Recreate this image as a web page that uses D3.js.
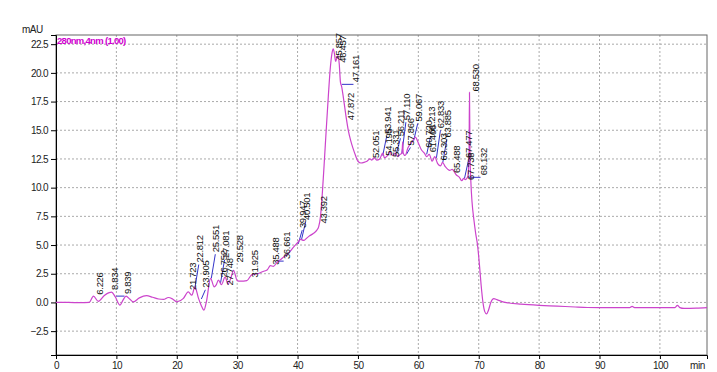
<!DOCTYPE html>
<html>
<head>
<meta charset="utf-8">
<script src="https://cdn.jsdelivr.net/npm/d3@7"></script>
<style>
  body { margin: 0; background: #fff; }
  svg { font-family: "Liberation Sans", Arial, sans-serif; }
</style>
</head>
<body>
<div id="chart"></div>
<script>
// chromatogram trace: [retention time (min), absorbance (mAU)]
const trace = [
  [0, 0.0], [2, 0.0], [4, -0.02], [5.5, 0.0], [6.2, 0.55], [7.0, 0.1], [8.0, 0.6],
  [8.8, 0.85], [9.2, 0.9], [9.8, 0.5], [10.6, -0.23], [11.1, 0.2], [11.6, 0.55],
  [12.2, 0.3], [12.8, 0.05], [13.8, 0.4], [15.0, 0.6], [16.0, 0.45], [17.0, 0.3],
  [17.8, 0.26], [18.6, 0.43], [19.3, 0.3], [20.0, 0.05], [21.1, 0.35], [21.9, 0.92],
  [22.5, 0.63], [23.0, 1.36], [23.6, 0.35], [24.0, -0.2], [24.5, -0.67], [24.9, 0.05],
  [25.6, 2.1], [26.2, 1.36], [26.5, 1.5], [26.9, 1.94], [27.4, 1.55], [28.0, 2.2],
  [28.5, 1.6], [29.0, 2.2], [29.4, 2.8], [30.0, 1.9], [30.5, 1.85], [31.6, 1.9],
  [32.4, 2.4], [33.4, 2.5], [34.3, 2.7], [35.0, 2.85], [35.5, 3.2], [36.0, 3.15],
  [36.7, 3.55], [37.1, 3.7], [37.8, 4.0], [38.3, 4.2], [38.7, 4.4], [39.3, 4.8],
  [40.0, 5.2], [40.5, 5.5], [41.0, 5.4], [41.5, 5.6], [42.0, 5.8], [42.6, 6.0],
  [43.2, 6.3], [43.5, 6.6], [43.8, 7.5], [44.1, 9.5], [44.4, 12.0], [44.8, 15.5],
  [45.1, 18.0], [45.4, 20.3], [45.7, 21.7], [45.9, 22.1], [46.1, 21.7], [46.3, 21.0],
  [46.5, 21.3], [46.7, 21.5], [46.9, 20.8], [47.1, 19.2], [47.3, 18.8], [47.6, 17.8],
  [48.0, 16.3], [48.4, 15.0], [48.8, 14.1], [49.2, 13.4], [49.6, 12.8], [50.0, 12.3],
  [50.5, 12.15], [51.0, 12.2], [51.5, 12.3], [52.0, 12.5], [52.3, 12.4], [52.7, 12.6],
  [53.1, 12.4], [53.6, 12.5], [54.1, 13.0], [54.4, 12.6], [54.9, 12.8], [55.3, 13.1],
  [55.7, 12.8], [56.2, 13.0], [56.6, 12.7], [57.0, 12.9], [57.3, 13.0], [57.4, 14.0],
  [57.5, 13.0], [57.8, 12.8], [58.3, 13.5], [59.0, 14.0], [59.5, 14.4], [60.0, 13.9],
  [60.5, 13.3], [61.0, 13.0], [61.4, 12.7], [61.8, 12.9], [62.3, 12.3], [62.7, 12.7],
  [63.2, 12.1], [63.7, 11.9], [64.0, 12.2], [64.5, 11.8], [65.2, 11.5], [65.6, 11.6],
  [66.3, 11.1], [66.8, 10.9], [67.2, 10.6], [67.5, 10.8], [67.8, 10.7], [68.2, 11.0],
  [68.4, 13.0], [68.47, 18.3], [68.55, 13.0], [68.7, 10.5], [68.9, 8.7], [69.2, 7.2],
  [69.5, 6.0], [69.8, 5.0], [70.1, 3.4], [70.4, 1.5], [70.7, 0.0], [71.0, -0.8],
  [71.3, -1.0], [71.6, -0.7], [72.0, 0.0], [72.5, 0.33], [73.0, 0.25], [74.0, 0.05],
  [75.0, -0.05], [77.0, -0.15], [80.0, -0.25], [83.0, -0.32], [86.0, -0.4], [88.0, -0.44],
  [90.0, -0.45], [95.0, -0.45], [95.4, -0.35], [95.8, -0.45], [100, -0.45], [102.5, -0.45],
  [102.9, -0.25], [103.3, -0.45], [104, -0.52], [106, -0.5], [107.8, -0.45]
];

// peak labels: [label, apex mAU, label level mAU, label time (min)]
const peaks = [
  ['6.226', 0.55, 0.5, 6.226], ['8.834', 0.85, 0.9, 8.834], ['9.839', 0.55, 0.55, 10.85],
  ['21.723', 0.9, 0.9, 21.723], ['22.812', 1.2, 3.3, 22.812], ['23.905', 0.3, 1.1, 23.905],
  ['25.551', 2.1, 4.2, 25.551], ['26.752', 1.9, 2.0, 26.752], ['27.081', 1.7, 3.7, 27.081],
  ['27.748', 1.9, 1.3, 27.748], ['29.528', 2.8, 3.3, 29.528], ['31.925', 2.0, 2.0, 31.925],
  ['35.488', 3.0, 3.1, 35.488], ['36.661', 3.6, 3.6, 37.2], ['39.947', 5.1, 6.3, 39.947],
  ['40.501', 5.5, 7.0, 40.501], ['43.392', 6.5, 6.7, 43.392], ['45.857', 22.1, 20.9, 45.857],
  ['46.457', 21.3, 20.7, 46.457], ['47.161', 19.0, 19.0, 48.76], ['47.872', 16.8, 15.7, 47.872],
  ['52.051', 12.5, 12.4, 52.051], ['54.195', 12.9, 12.6, 54.195], ['53.941', 12.8, 14.5, 53.941],
  ['55.331', 13.0, 12.5, 55.331], ['56.211', 13.0, 14.3, 56.211], ['57.110', 13.0, 15.7, 57.110],
  ['57.866', 12.9, 13.5, 57.866], ['59.067', 14.1, 15.6, 59.067], ['60.720', 13.2, 13.3, 60.720],
  ['61.406', 12.7, 12.9, 61.406], ['61.213', 12.9, 14.5, 61.213], ['62.833', 12.6, 15.0, 62.833],
  ['63.303', 12.1, 12.2, 63.303], ['63.885', 12.2, 14.2, 63.885], ['65.488', 11.6, 11.1, 65.488],
  ['67.477', 10.8, 12.4, 67.477], ['67.738', 10.7, 10.5, 67.738], ['68.530', 18.3, 18.2, 68.530],
  ['68.132', 10.9, 10.9, 69.8]
];

const xTicks = [0, 10, 20, 30, 40, 50, 60, 70, 80, 90, 100];
const yTicks = [-2.5, 0.0, 2.5, 5.0, 7.5, 10.0, 12.5, 15.0, 17.5, 20.0, 22.5];

const width = 717;
const height = 372;
const margin = { top: 35, right: 10, bottom: 17, left: 56 };

const x = d3.scaleLinear().domain([0, 107.8]).range([margin.left, width - margin.right]);
const y = d3.scaleLinear().domain([-4.58, 23.3]).range([height - margin.bottom, margin.top]);

const svg = d3.select('#chart').append('svg')
  .attr('width', width)
  .attr('height', height);

// dotted grid
svg.append('g').selectAll('line').data(xTicks.filter(d => d > 0))
  .join('line')
  .attr('x1', d => x(d)).attr('x2', d => x(d))
  .attr('y1', y.range()[1]).attr('y2', y.range()[0])
  .attr('stroke', '#aaa').attr('stroke-dasharray', '2,2');

svg.append('g').selectAll('line').data(yTicks)
  .join('line')
  .attr('x1', x.range()[0]).attr('x2', x.range()[1])
  .attr('y1', d => y(d)).attr('y2', d => y(d))
  .attr('stroke', '#aaa').attr('stroke-dasharray', '2,2');

// frame
svg.append('rect')
  .attr('x', x.range()[0]).attr('y', y.range()[1])
  .attr('width', x.range()[1] - x.range()[0])
  .attr('height', y.range()[0] - y.range()[1])
  .attr('fill', 'none').attr('stroke', '#666');

// axes
const xAxis = d3.axisBottom(x).tickValues(xTicks).tickSize(4).tickPadding(3);
const xMinor = d3.axisBottom(x).tickValues(d3.range(0, 108, 2)).tickSize(3).tickFormat('');
const yAxis = d3.axisLeft(y).tickValues(yTicks).tickSize(5).tickPadding(3).tickFormat(d3.format('.1f'));
const yMinor = d3.axisLeft(y).tickValues(d3.range(-4.5, 23.3, 0.5)).tickSize(2.5).tickFormat('');

const gx = svg.append('g').attr('transform', `translate(0,${y.range()[0]})`);
gx.call(xMinor);
gx.call(xAxis);
const gy = svg.append('g').attr('transform', `translate(${x.range()[0]},0)`);
gy.call(yMinor);
gy.call(yAxis);

svg.selectAll('.domain').attr('stroke', '#000');
svg.selectAll('.tick text')
  .attr('font-size', 10)
  .attr('letter-spacing', '-0.6px')
  .attr('fill', '#222');

svg.append('text')
  .attr('x', 22).attr('y', 33)
  .attr('font-size', 10).attr('letter-spacing', '-0.5px').attr('fill', '#222')
  .text('mAU');

svg.append('text')
  .attr('x', x(105)).attr('y', height - 3)
  .attr('font-size', 10).attr('letter-spacing', '-0.5px').attr('fill', '#222')
  .text('min');

svg.append('text')
  .attr('x', x.range()[0] + 1).attr('y', 44)
  .attr('font-size', 9.5).attr('font-weight', 'bold').attr('letter-spacing', '-0.7px')
  .attr('fill', '#d000d0')
  .text('280nm,4nm (1.00)');

// integration leaders (blue)
const leaders = peaks.filter(d => d[3] !== +d[0] || d[2] - d[1] > 0.5);
svg.append('g').selectAll('line').data(leaders)
  .join('line')
  .attr('x1', d => x(+d[0]) + 1)
  .attr('y1', d => y(d[1]))
  .attr('x2', d => x(d[3]) + (d[3] !== +d[0] ? 3 : 5))
  .attr('y2', d => y(d[2]))
  .attr('stroke', '#3333c8').attr('stroke-width', 1);

// trace
const line = d3.line()
  .x(d => x(d[0]))
  .y(d => y(d[1]))
  .curve(d3.curveMonotoneX);

svg.append('path')
  .datum(trace)
  .attr('d', line)
  .attr('fill', 'none')
  .attr('stroke', '#cc44cc')
  .attr('stroke-width', 1.2);

// peak labels, rotated
svg.append('g').selectAll('text').data(peaks)
  .join('text')
  .attr('transform', d => `translate(${x(d[3]) + 9},${y(d[2]) - 2}) rotate(-90)`)
  .attr('font-size', 9.5)
  .attr('letter-spacing', '-0.3px')
  .attr('fill', '#111')
  .text(d => d[0]);
</script>
</body>
</html>
